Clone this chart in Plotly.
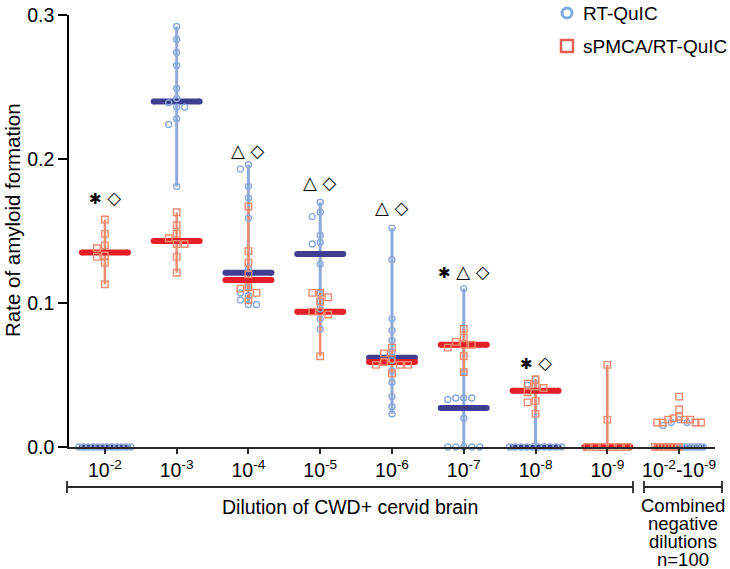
import plotly.graph_objects as go
import numpy as np

# ---------------- data ----------------
categories = ["10<sup>-2</sup>", "10<sup>-3</sup>", "10<sup>-4</sup>", "10<sup>-5</sup>",
              "10<sup>-6</sup>", "10<sup>-7</sup>", "10<sup>-8</sup>", "10<sup>-9</sup>",
              "10<sup>-2</sup>-10<sup>-9</sup>"]

rtquic = [
    [0, 0, 0, 0, 0, 0, 0, 0, 0, 0, 0, 0],
    [0.292, 0.283, 0.274, 0.265, 0.249, 0.242, 0.239, 0.236, 0.236, 0.228, 0.224, 0.181],
    [0.196, 0.193, 0.181, 0.173, 0.159, 0.124, 0.111, 0.107, 0.105, 0.102, 0.099, 0.099],
    [0.170, 0.163, 0.160, 0.147, 0.142, 0.141, 0.127, 0.107, 0.101, 0.096, 0.089, 0.082],
    [0.152, 0.130, 0.089, 0.081, 0.074, 0.066, 0.060, 0.053, 0.045, 0.035, 0.028, 0.023],
    [0.110, 0.052, 0.034, 0.034, 0.034, 0.033, 0.020, 0, 0, 0, 0, 0],
    [0.047, 0.043, 0, 0, 0, 0, 0, 0, 0, 0, 0, 0],
    [],
    [0.019, 0.017, 0.017, 0.015, 0, 0, 0, 0, 0, 0, 0, 0],
]
rtquic_median = [0, 0.240, 0.121, 0.134, 0.062, 0.027, 0, None, 0]

spmca = [
    [0.158, 0.148, 0.140, 0.138, 0.133, 0.132, 0.128, 0.113],
    [0.163, 0.154, 0.148, 0.145, 0.141, 0.141, 0.132, 0.121],
    [0.167, 0.136, 0.128, 0.120, 0.111, 0.110, 0.107, 0.102],
    [0.107, 0.107, 0.104, 0.101, 0.094, 0.094, 0.092, 0.063],
    [0.069, 0.065, 0.061, 0.059, 0.057, 0.057, 0.057, 0.051],
    [0.082, 0.076, 0.073, 0.071, 0.071, 0.069, 0.063, 0.052],
    [0.047, 0.044, 0.042, 0.041, 0.038, 0.032, 0.031, 0.023],
    [0.057, 0.019, 0, 0, 0, 0, 0, 0],
    [0.035, 0.026, 0.021, 0.020, 0.019, 0.019, 0.019, 0.017, 0.017, 0.017, 0.017,
     0, 0, 0, 0, 0, 0, 0, 0],
]
spmca_median = [0.135, 0.143, 0.116, 0.094, 0.059, 0.071, 0.039, 0, 0]

sig_labels = ["✱ ◇", "✱ △ ◇", "△ ◇", "△ ◇", "△ ◇", "✱ △ ◇", "✱ ◇", "", ""]
sig_y = [0.173, 0.301, 0.206, 0.184, 0.166, 0.122, 0.059, None, None]

# ---------------- styling / geometry ----------------
W, H = 730, 569
ML, MR, MT, MB = 69, 15, 15, 122
PX = (W - ML - MR) / 9.0          # px per category unit
YPX = (H - MT - MB) / 0.3         # px per value unit
STEP = 8.0                        # swarm step in px
RCOL = 6.0                        # vertical collision distance px

BLUE = "rgb(140,170,220)"
NAVY = "rgb(64,62,145)"
SALMON = "rgb(240,140,112)"
RED = "rgb(230,30,40)"
FONT = "Liberation Sans, Arial, Helvetica, sans-serif"
FS = 19.5

is_combined = [False] * 8 + [True]


def swarm(vals, max_half_px, center_rows=False):
    placed, offs = [], []
    seq = [0] + [s * j for j in range(1, 60) for s in (-1, 1)]
    for v in vals:
        y = v * YPX
        x = 0.0
        for k in seq:
            x = k * STEP
            if all(abs(y - py) >= RCOL or abs(x - px) >= STEP * 0.99 for py, px in placed):
                break
        placed.append((y, x))
        offs.append(x)
    if not offs:
        return []
    offs = np.array(offs, dtype=float)
    if center_rows:
        offs = offs - (offs.max() + offs.min()) / 2.0
    m = np.abs(offs).max()
    if m > max_half_px:
        offs = offs * max_half_px / m
    return list(offs / PX)


def positions(series, zero_shift):
    xs, ys = [], []
    for i, vals in enumerate(series):
        nz = [v for v in vals if v != 0]
        z = [v for v in vals if v == 0]
        half_nz = 22 if is_combined[i] else 26
        half_z = 12 if is_combined[i] else 26
        shift = zero_shift if is_combined[i] else 0.0
        for o, v in zip(swarm(nz, half_nz), nz):
            xs.append(i + o)
            ys.append(v)
        for o, v in zip(swarm(z, half_z, center_rows=True), z):
            xs.append(i + shift + o)
            ys.append(v)
    return xs, ys


def ranges(series):
    xs, ys = [], []
    for i, vals in enumerate(series):
        if not vals or is_combined[i]:
            continue
        lo, hi = min(vals), max(vals)
        if hi > lo:
            xs += [i, i, None]
            ys += [lo, hi, None]
    return xs, ys


def median_bars(meds, zero_shift):
    xs, ys = [], []
    for i, m in enumerate(meds):
        if m is None:
            continue
        if is_combined[i]:
            c, h = i + zero_shift, 10.5 / PX
        else:
            c, h = i, 23.0 / PX
        xs += [c - h, c + h, None]
        ys += [m, m, None]
    return xs, ys


fig = go.Figure()

bx, by = ranges(rtquic)
fig.add_trace(go.Scatter(x=bx, y=by, mode="lines", line=dict(color=BLUE, width=3),
                         hoverinfo="skip", cliponaxis=False, showlegend=False))
rx, ry = ranges(spmca)
fig.add_trace(go.Scatter(x=rx, y=ry, mode="lines", line=dict(color=SALMON, width=2.5),
                         hoverinfo="skip", cliponaxis=False, showlegend=False))

mbx, mby = median_bars(rtquic_median, 0.17)
fig.add_trace(go.Scatter(x=mbx, y=mby, mode="lines+markers", line=dict(color=NAVY, width=6),
                         marker=dict(symbol="circle", size=6, color=NAVY, line=dict(width=0)),
                         hoverinfo="skip", cliponaxis=False, showlegend=False))
mrx, mry = median_bars(spmca_median, -0.17)
fig.add_trace(go.Scatter(x=mrx, y=mry, mode="lines+markers", line=dict(color=RED, width=6),
                         marker=dict(symbol="circle", size=6, color=RED, line=dict(width=0)),
                         hoverinfo="skip", cliponaxis=False, showlegend=False))

px_b, py_b = positions(rtquic, 0.17)
fig.add_trace(go.Scatter(x=px_b, y=py_b, mode="markers", name="RT-QuIC",
                         marker=dict(symbol="circle-open", size=6, color=BLUE, line=dict(width=1.4)),
                         cliponaxis=False, showlegend=False))
px_r, py_r = positions(spmca, -0.17)
fig.add_trace(go.Scatter(x=px_r, y=py_r, mode="markers", name="sPMCA/RT-QuIC",
                         marker=dict(symbol="square-open", size=6.5, color=SALMON, line=dict(width=1.4)),
                         cliponaxis=False, showlegend=False))

annotations = []
for i, (lab, yv) in enumerate(zip(sig_labels, sig_y)):
    if lab and yv is not None:
        lab_html = lab.replace("✱", '<span style="font-size:15px">✱</span>')
        annotations.append(dict(x=i, y=yv, xref="x", yref="y", text=lab_html, showarrow=False,
                                xanchor="center", yanchor="middle",
                                font=dict(family="DejaVu Sans", size=18, color="black")))


def pxp(x):
    return (x - ML) / (W - ML - MR)


def pyp(y):
    return (H - MB - y) / (H - MT - MB)


annotations.append(dict(x=pxp(12), y=pyp(220), xref="paper", yref="paper",
                        text="Rate of amyloid formation", textangle=-90, showarrow=False,
                        font=dict(family=FONT, size=20.5, color="black"),
                        xanchor="center", yanchor="middle"))
annotations.append(dict(x=pxp(350), y=pyp(507), xref="paper", yref="paper",
                        text="Dilution of CWD+ cervid brain", showarrow=False,
                        font=dict(family=FONT, size=FS, color="black"),
                        xanchor="center", yanchor="middle"))
for txt, yy in zip(["Combined", "negative", "dilutions", "n=100"], [505, 523, 541, 559]):
    annotations.append(dict(x=pxp(683), y=pyp(yy), xref="paper", yref="paper",
                            text=txt, showarrow=False, borderpad=0,
                            font=dict(family=FONT, size=18.5, color="black"),
                            xanchor="center", yanchor="middle"))
# legend text
annotations.append(dict(x=pxp(582), y=pyp(13), xref="paper", yref="paper", text="RT-QuIC",
                        showarrow=False, borderpad=0, font=dict(family=FONT, size=19, color="black"),
                        xanchor="left", yanchor="middle"))
annotations.append(dict(x=pxp(582), y=pyp(46), xref="paper", yref="paper", text="sPMCA/RT-QuIC",
                        showarrow=False, borderpad=0, font=dict(family=FONT, size=19, color="black"),
                        xanchor="left", yanchor="middle"))

shapes = []
# legend symbols
shapes.append(dict(type="circle", xref="paper", yref="paper", xsizemode="pixel", ysizemode="pixel",
                   xanchor=pxp(567), yanchor=pyp(13), x0=-5, x1=5, y0=-5, y1=5,
                   line=dict(color="rgb(125,172,228)", width=3)))
shapes.append(dict(type="rect", xref="paper", yref="paper", xsizemode="pixel", ysizemode="pixel",
                   xanchor=pxp(567), yanchor=pyp(46), x0=-6, x1=6, y0=-6, y1=6,
                   line=dict(color="rgb(226,95,85)", width=2.5)))
# brackets
BR = "rgb(40,40,40)"
for x0, x1 in [(67, 633), (644, 722)]:
    shapes.append(dict(type="line", xref="paper", yref="paper", x0=pxp(x0), x1=pxp(x1),
                       y0=pyp(487), y1=pyp(487), line=dict(color=BR, width=1.8)))
    for xx in (x0, x1):
        shapes.append(dict(type="line", xref="paper", yref="paper", x0=pxp(xx), x1=pxp(xx),
                           y0=pyp(481), y1=pyp(493), line=dict(color=BR, width=1.8)))

fig.update_layout(
    width=W, height=H, autosize=False,
    margin=dict(l=ML, r=MR, t=MT, b=MB, pad=0, autoexpand=False),
    paper_bgcolor="white", plot_bgcolor="white",
    font=dict(family=FONT, size=FS, color="black"),
    showlegend=False,
    annotations=annotations,
    shapes=shapes,
    xaxis=dict(range=[-0.5, 8.5], tickmode="array", tickvals=list(range(9)), ticktext=categories,
               showline=True, linecolor="rgb(40,40,40)", linewidth=1.5, ticks="outside",
               ticklen=5, tickwidth=1.5, tickcolor="rgb(40,40,40)", showgrid=False, zeroline=False,
               automargin=False, tickfont=dict(family=FONT, size=FS, color="black")),
    yaxis=dict(range=[0, 0.3], tickmode="array", tickvals=[0, 0.1, 0.2, 0.3],
               ticktext=["0.0", "0.1", "0.2", "0.3"],
               showline=True, linecolor="black", linewidth=1.5, ticks="outside",
               ticklen=9, tickwidth=1.5, tickcolor="black", showgrid=False, zeroline=False,
               automargin=False, tickfont=dict(family=FONT, size=FS, color="black")),
)

fig.write_html("out.html", config={"displayModeBar": False},
               post_script="document.body.style.margin='0px';document.body.style.overflow='hidden';")
